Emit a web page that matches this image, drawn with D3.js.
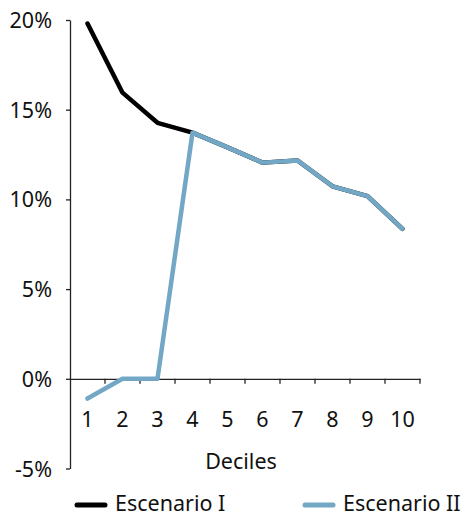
<!DOCTYPE html>
<html><head><meta charset="utf-8">
<script src="https://cdn.jsdelivr.net/npm/d3@7"></script>
<style>body{margin:0;background:#fff}svg{display:block}text{font-family:"Noto Sans",Lato,sans-serif;fill:#111}</style>
</head><body>
<script>
const deciles = ["1","2","3","4","5","6","7","8","9","10"];
const escenarioI  = [19.8, 15.95, 14.27, 13.72, 12.9, 12.05, 12.17, 10.73, 10.18, 8.36];
const escenarioII = [-1.1, 0.0, 0.0, 13.72, 12.9, 12.05, 12.17, 10.73, 10.18, 8.36];
const yTicks = [-5, 0, 5, 10, 15, 20];
const seriesNames = ["Escenario I", "Escenario II"];
const colors = ["#000000", "#72a7c5"];

const W = 468, H = 518;
const FS = "21.5px";
const svg = d3.select("body").append("svg").attr("width", W).attr("height", H);

const x = d3.scaleBand().domain(deciles).range([70, 420]);
const y = d3.scaleLinear().domain([-5, 20]).range([468.5, 20]);

// y axis
const yAx = svg.append("g").attr("transform", "translate(70,0)")
  .call(d3.axisLeft(y).tickValues(yTicks).tickFormat(d => d + "%").tickSize(4).tickSizeOuter(0).tickPadding(14));
yAx.select(".domain").attr("stroke", "#222").attr("stroke-width", 1.3);
yAx.selectAll(".tick line").attr("stroke", "#222").attr("stroke-width", 1.3);
yAx.selectAll("text").style("font-size", FS).attr("fill", "#111").attr("dy", "0.35em");

// x axis at 0
const xAx = svg.append("g").attr("transform", `translate(0,${y(0)})`)
  .call(d3.axisBottom(x).tickSize(0).tickPadding(33));
xAx.select(".domain").attr("stroke", "#222").attr("stroke-width", 1.3);
xAx.selectAll("text").style("font-size", FS).attr("fill", "#111");
// boundary ticks between categories
const bounds = deciles.map(d => x(d)).concat([x.range()[1]]).slice(1);
xAx.selectAll(".bt").data(bounds).enter().append("line")
  .attr("x1", d => d).attr("x2", d => d).attr("y1", 0).attr("y2", 5)
  .attr("stroke", "#222").attr("stroke-width", 1.3);

svg.append("text").attr("x", 241).attr("y", 469).attr("text-anchor", "middle")
  .style("font-size", FS).text("Deciles");

const line = d3.line().x((d, i) => x(deciles[i]) + x.bandwidth() / 2).y(d => y(d));
[escenarioI, escenarioII].forEach((s, k) => {
  svg.append("path").datum(s).attr("d", line).attr("fill", "none")
    .attr("stroke", colors[k]).attr("stroke-width", 4.5)
    .attr("stroke-linecap", "round").attr("stroke-linejoin", "round");
});

// legend
const leg = [{x: 77, name: seriesNames[0], c: colors[0]}, {x: 305, name: seriesNames[1], c: colors[1]}];
leg.forEach(l => {
  svg.append("line").attr("x1", l.x).attr("x2", l.x + 28).attr("y1", 505).attr("y2", 505)
    .attr("stroke", l.c).attr("stroke-width", 5).attr("stroke-linecap", "round");
  svg.append("text").attr("x", l.x + 38).attr("y", 511).style("font-size", FS).text(l.name);
});
</script>
</body></html>
